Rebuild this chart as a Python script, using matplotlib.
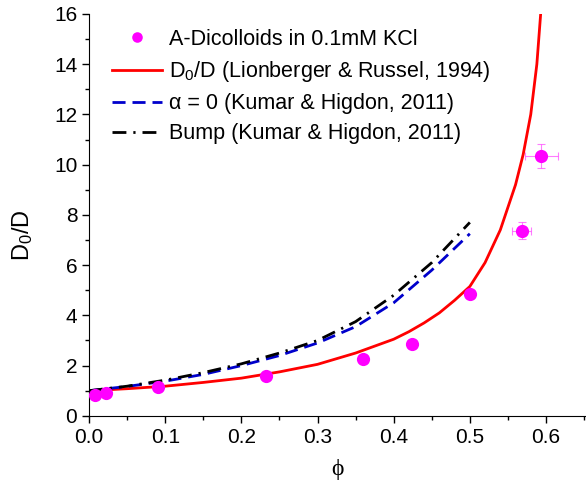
import numpy as np
import matplotlib.pyplot as plt
from matplotlib.ticker import MultipleLocator

plt.rcParams['font.family'] = ['Liberation Sans', 'DejaVu Sans']
plt.rcParams['mathtext.fontset'] = 'custom'
plt.rcParams['mathtext.rm'] = 'Liberation Sans'
plt.rcParams['mathtext.default'] = 'regular'

# experimental points (A-Dicolloids in 0.1mM KCl)
phi_exp = [0.008, 0.022, 0.090, 0.232, 0.360, 0.424, 0.500, 0.568, 0.594]
d_exp = [0.81, 0.90, 1.14, 1.59, 2.26, 2.86, 4.86, 7.37, 10.33]
phi_err = [0.568, 0.594]
d_err = [7.37, 10.33]
xerr = [0.012, 0.022]
yerr = [0.33, 0.48]

# Lionberger & Russel 1994
phi_lr = [0.0, 0.05, 0.10, 0.15, 0.20, 0.25, 0.30, 0.35, 0.40, 0.42, 0.44,
          0.46, 0.48, 0.50, 0.52, 0.54, 0.56, 0.57, 0.58, 0.588, 0.591, 0.593]
d_lr = [1.0, 1.08, 1.18, 1.33, 1.50, 1.75, 2.05, 2.50, 3.05, 3.35, 3.70,
        4.10, 4.60, 5.15, 6.10, 7.40, 9.20, 10.40, 12.0, 14.0, 15.2, 16.0]

# Kumar & Higdon 2011
phi_kh = [0.0, 0.05, 0.10, 0.15, 0.20, 0.25, 0.30, 0.35, 0.40, 0.45, 0.50]
d_alpha0 = [1.0, 1.17, 1.38, 1.65, 2.00, 2.40, 2.90, 3.55, 4.50, 5.80, 7.25]
d_bump = [1.0, 1.18, 1.42, 1.72, 2.07, 2.50, 3.00, 3.75, 4.80, 6.10, 7.70]

fig = plt.figure(figsize=(5.86, 4.98), dpi=100)
ax = fig.add_axes([0.152, 0.165, 0.846, 0.807])

ax.errorbar(phi_err, d_err, xerr=xerr, yerr=yerr, fmt='none', ecolor='#ff44ff',
            elinewidth=0.8, capsize=3, capthick=0.8, alpha=0.7, zorder=2)
ax.plot(phi_exp, d_exp, 'o', color='#ff00ff', markersize=9.5, markeredgewidth=0,
        label='A-Dicolloids in 0.1mM KCl', zorder=3)
ax.plot(phi_lr, d_lr, '-', color='#ff0000', lw=2.0,
        label='D$_0$/D (Lionberger & Russel, 1994)')
ax.plot(phi_kh, d_alpha0, color='#0000cc', lw=2.0, dashes=(4.7, 2.5),
        label='α = 0 (Kumar & Higdon, 2011)')
ax.plot(phi_kh, d_bump, color='black', lw=2.0, dashes=(5, 2.5, 0.8, 2.5),
        label='Bump (Kumar & Higdon, 2011)')

ax.set_xlim(0, 0.651)
ax.set_ylim(0, 16)
ax.xaxis.set_major_locator(MultipleLocator(0.1))
ax.xaxis.set_minor_locator(MultipleLocator(0.05))
ax.yaxis.set_major_locator(MultipleLocator(2))
ax.yaxis.set_minor_locator(MultipleLocator(1))
ax.xaxis.set_major_formatter(plt.FuncFormatter(lambda v, p: f'{v:.1f}'))
ax.tick_params(which='major', direction='out', length=5, width=1, labelsize=15)
ax.tick_params(which='minor', direction='out', length=3, width=1)
ax.spines['top'].set_visible(False)
ax.spines['right'].set_visible(False)

ax.set_xlabel('ϕ', fontsize=17, family=['Liberation Serif', 'DejaVu Serif'], labelpad=9)
ax.set_ylabel('D$_0$/D', fontsize=17)
ax.yaxis.set_label_coords(-0.11, 0.45)

ax.legend(loc='upper left', bbox_to_anchor=(0.015, 1.0), frameon=False, fontsize=15.5,
          handlelength=2.35, handletextpad=0.3, labelspacing=0.42, borderaxespad=0.3,
          markerscale=0.8)

fig.savefig('out.png', dpi=100)
